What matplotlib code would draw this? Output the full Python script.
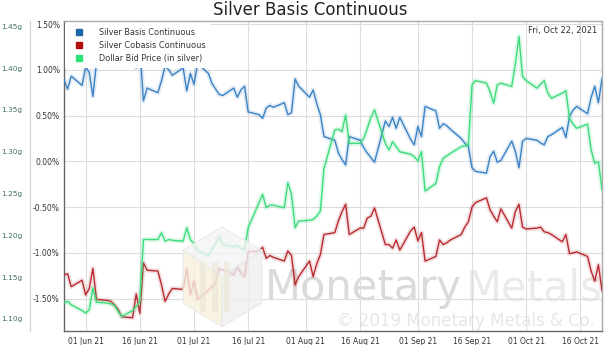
import numpy as np
import pandas as pd
import matplotlib
matplotlib.use("Agg")
import matplotlib.pyplot as plt
import matplotlib.dates as mdates
from matplotlib.lines import Line2D
from matplotlib.patches import Polygon

# business days shown on the chart
dates = pd.bdate_range("2021-05-26", "2021-10-22")

# Silver basis (%)
basis = [0.89, 0.79, 0.93, 0.83, 1.03, 0.97, 0.71, 1.08, 1.095, 1.06,
         1.12, 1.10, 1.25, 1.25, 1.02, 1.25, 0.66, 0.80, 0.75, 0.88,
         1.04, 1.00, 0.94, 1.02, 0.77, 0.96, 0.84, 1.07, 0.96, 0.85,
         0.79, 0.73, 0.72, 0.80, 0.70, 0.78, 0.82, 0.54, 0.51, 0.47,
         0.58, 0.61, 0.59, 0.64, 0.51, 0.53, 0.90, 0.82, 0.70, 0.78,
         0.63, 0.51, 0.27, 0.23, 0.09, 0.02, -0.04, 0.27, 0.23, 0.15,
         0.09, 0.04, -0.01, 0.44, 0.38, 0.48, 0.36, 0.48, 0.24, 0.18,
         0.38, 0.27, 0.60, 0.55, 0.36, 0.41, 0.39, 0.35, 0.25, 0.20,
         0.16, -0.07, -0.11, -0.13, 0.05, 0.11, -0.01, 0.01, 0.22, 0.11,
         -0.07, 0.22, 0.25, 0.23, 0.20, 0.18, 0.27, 0.29, 0.37, 0.26,
         0.49, 0.56, 0.60, 0.52, 0.70, 0.82, 0.64, 0.90]

# Silver cobasis (%)
cobasis = [-1.24, -1.23, -1.37, -1.30, -1.46, -1.39, -1.17, -1.51, -1.52, -1.53,
           -1.57, -1.62, -1.70, -1.71, -1.45, -1.66, -1.11, -1.19, -1.20, -1.35,
           -1.53, -1.45, -1.39, -1.40, -1.17, -1.46, -1.31, -1.51, -1.41, -1.37,
           -1.33, -1.17, -1.19, -1.24, -1.15, -1.22, -1.26, -0.99, -0.98, -0.94,
           -1.06, -1.03, -1.05, -1.09, -0.98, -1.03, -1.35, -1.26, -1.09, -1.26,
           -1.12, -1.02, -0.80, -0.78, -0.65, -0.55, -0.47, -0.80, -0.73, -0.73,
           -0.62, -0.60, -0.51, -0.91, -0.91, -0.95, -0.86, -0.97, -0.76, -0.72,
           -0.87, -0.78, -1.09, -1.04, -0.86, -0.91, -0.89, -0.86, -0.80, -0.72,
           -0.66, -0.50, -0.45, -0.40, -0.53, -0.60, -0.66, -0.52, -0.73, -0.55,
           -0.47, -0.72, -0.74, -0.73, -0.72, -0.77, -0.78, -0.80, -0.88, -0.80,
           -1.01, -1.00, -0.99, -1.04, -1.20, -1.31, -1.13, -1.41]

# Dollar bid price in grams of silver
bid_grams = [1.119, 1.121, 1.117, 1.110, 1.107, 1.111, 1.137, 1.120, 1.119, 1.118,
             1.116, 1.109, 1.103, 1.110, 1.115, 1.120, 1.195, 1.195, 1.195, 1.203,
             1.193, 1.195, 1.194, 1.193, 1.209, 1.195, 1.190, 1.182, 1.175, 1.183,
             1.190, 1.199, 1.189, 1.186, 1.188, 1.184, 1.183, 1.209, 1.239, 1.249,
             1.233, 1.236, 1.236, 1.233, 1.263, 1.249, 1.209, 1.217, 1.218, 1.219,
             1.223, 1.229, 1.280, 1.326, 1.327, 1.324, 1.344, 1.310, 1.310, 1.316,
             1.328, 1.341, 1.350, 1.310, 1.302, 1.312, 1.306, 1.300, 1.297, 1.294,
             1.289, 1.300, 1.253, 1.262, 1.282, 1.292, 1.295, 1.298, 1.306, 1.307,
             1.308, 1.380, 1.385, 1.382, 1.372, 1.358, 1.380, 1.382, 1.378, 1.405,
             1.438, 1.390, 1.385, 1.376, 1.381, 1.385, 1.370, 1.364, 1.370, 1.373,
             1.340, 1.333, 1.328, 1.333, 1.302, 1.286, 1.288, 1.255]

pct_ticks = [-1.5, -1.0, -0.5, 0.0, 0.5, 1.0, 1.5]
gram_ticks = [1.10, 1.15, 1.20, 1.25, 1.30, 1.35, 1.40, 1.45]
x_ticks = pd.to_datetime(["2021-06-01", "2021-06-16", "2021-07-01", "2021-07-16",
                          "2021-08-01", "2021-08-16", "2021-09-01", "2021-09-16",
                          "2021-10-01", "2021-10-16"])

W, H = 608, 345
fig = plt.figure(figsize=(W / 100, H / 100), dpi=100)


def px(x, y):
    # pixel position (from top-left) -> figure fraction
    return x / W, 1 - y / H


ax = fig.add_axes([64 / W, (H - 331.3) / H, 538 / W, 310 / H])
ax.set_ylim(-1.858, 1.53)
ax.set_xlim(dates[0], dates[-1])

blue, red, green = "#3b82c4", "#b82a30", "#3ddc7c"

# watermark (behind the lines)
ax.text(0.3736, 0.10, "Monetary", transform=ax.transAxes, fontsize=30,
        color="#dadada", zorder=0.5)
ax.text(0.747, 0.10, "Metals", transform=ax.transAxes, fontsize=30,
        color="#eaeaea", zorder=0.5)
ax.text(0.507, 0.018, "\u00a9 2019 Monetary Metals & Co.", transform=ax.transAxes,
        fontsize=12, color="#e6e6e6", zorder=0.5)
c = (222, 277)
hexv = {"t": (222, 227), "ur": (262, 250), "lr": (262, 303), "b": (222, 327),
        "ll": (183, 303), "ul": (183, 250)}
faces = [(["ul", "t", "ur"], "#f4f4f4"), (["ul", "ll", "b"], "#f8f1de"),
         (["ur", "lr", "b"], "#efefef")]
for keys, col in faces:
    pts = [px(*c)] + [px(*hexv[k]) for k in keys]
    fig.patches.append(Polygon(pts, closed=True, transform=fig.transFigure,
                               facecolor=col, edgecolor="#e8e8e8", lw=0.8, alpha=0.8,
                               zorder=0.2))
for bx in (200, 212, 224):
    fig.patches.append(Polygon([px(bx, 262), px(bx + 6, 262), px(bx + 6, 312), px(bx, 312)],
                               closed=True, transform=fig.transFigure,
                               facecolor="#ebe5d4", edgecolor="none", alpha=0.6, zorder=0.3))

ax.patch.set_alpha(0)

# lines with soft glow
for vals, col in ((basis, blue), (cobasis, red)):
    ax.plot(dates, vals, color=col, lw=3.5, alpha=0.15, solid_capstyle="round", zorder=2)
    ax.plot(dates, vals, color=col, lw=1.0, zorder=3)

ax.set_yticks(pct_ticks)
ax.set_yticklabels([f"{v:.2f}%" for v in pct_ticks])
ax.set_xticks(x_ticks)
ax.xaxis.set_major_formatter(mdates.DateFormatter("%d %b %y"))
ax.tick_params(axis="both", length=0, labelsize=5.5, colors="#333333")
ax.tick_params(axis="x", pad=4)
ax.tick_params(axis="y", pad=3)
ax.grid(True, color="#dddddd", lw=0.8)
ax.set_axisbelow(True)
for s in ("left", "bottom"):
    ax.spines[s].set_color("#666666")
    ax.spines[s].set_linewidth(1)
for s in ("top", "right"):
    ax.spines[s].set_color("#aaaaaa")
    ax.spines[s].set_linewidth(1)

ax2 = ax.twinx()
ax2.set_ylim(1.0852, 1.456)
ax2.plot(dates, bid_grams, color=green, lw=3.5, alpha=0.18, solid_capstyle="round", zorder=2)
ax2.plot(dates, bid_grams, color=green, lw=1.0, zorder=3)
ax2.yaxis.set_ticks_position("left")
ax2.yaxis.set_label_position("left")
ax2.spines["left"].set_position(("outward", 24.5))
ax2.spines["left"].set_color("#d0d0d0")
for s in ("top", "right", "bottom"):
    ax2.spines[s].set_visible(False)
ax2.set_yticks(gram_ticks)
ax2.set_yticklabels([f"{v:.2f}g" for v in gram_ticks])
ax2.tick_params(axis="y", length=0, labelsize=5.3, colors="#3f7158", pad=5.5)

handles = [Line2D([], [], ls="none", marker="s", markersize=5, color="#1f64ad"),
           Line2D([], [], ls="none", marker="s", markersize=5, color="#b20d0d"),
           Line2D([], [], ls="none", marker="s", markersize=5, color="#2ee27a")]
labels = ["Silver Basis Continuous", "Silver Cobasis Continuous", "Dollar Bid Price (in silver)"]
leg = ax2.legend(handles, labels, loc="upper left", bbox_to_anchor=(0.0, 1.0),
                 fontsize=5.9, frameon=True, facecolor="white", edgecolor="none",
                 framealpha=1, fancybox=False, labelspacing=0.45, handletextpad=1.4,
                 borderpad=0.7, borderaxespad=0.15, labelcolor="#333333")
leg.set_zorder(10)

ax2.text(0.9907, 0.985, "Fri, Oct 22, 2021", transform=ax2.transAxes, ha="right",
         va="top", fontsize=6, color="#333333", zorder=11)

fig.text(310 / W, 1 - 1 / H, "Silver Basis Continuous", ha="center", va="top",
         fontsize=12, color="#222222")

fig.savefig("out.png", dpi=100)
